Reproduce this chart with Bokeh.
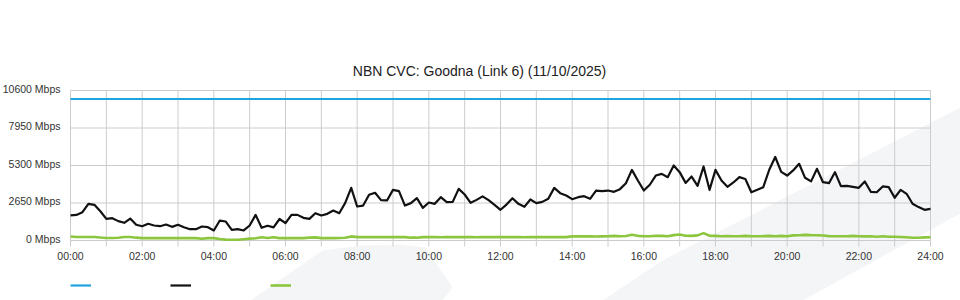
from bokeh.plotting import figure
from bokeh.models import Legend, LegendItem, PolyAnnotation, Range1d, Label
from bokeh.core.properties import value
from bokeh.embed import file_html
from bokeh.resources import INLINE

title_text = "NBN CVC: Goodna (Link 6) (11/10/2025)"
step_minutes = 10

# black series (Mbps), every 10 minutes from 00:00 to 24:00
traffic_main = [
    1770, 1810, 2000, 2590, 2520, 2070, 1530, 1580, 1370, 1250, 1550, 1110,
    1010, 1180, 1060, 1010, 1130, 965, 1110, 940, 800, 800, 990, 940,
    710, 1410, 1340, 750, 800, 710, 1060, 1810, 900, 1040, 930, 1520,
    1225, 1810, 1810, 1600, 1530, 1930, 1770, 1885, 2120, 1930, 2660, 3720,
    2400, 2470, 3230, 3370, 2850, 2830, 3580, 3490, 2470, 2640, 2990, 2310,
    2685, 2590, 3060, 2710, 2730, 3650, 3250, 2660, 2870, 3120, 2850, 2520,
    2170, 2540, 2990, 2590, 2380, 2900, 2640, 2730, 2945, 3720, 3345, 3180,
    2920, 3060, 3130, 2945, 3530, 3490, 3530, 3440, 3630, 4050, 4990, 4240,
    3530, 3940, 4590, 4710, 4475, 5300, 4830, 4070, 4520, 3860, 5230, 3580,
    4990, 4240, 3790, 4100, 4475, 4350, 3410, 3580, 3770, 5000, 5900, 4850,
    4590, 4950, 5420, 4430, 4180, 5065, 4120, 4050, 4830, 3840, 3860, 3790,
    3720, 4170, 3440, 3410, 3820, 3770, 3020, 3580, 3300, 2600, 2360, 2170,
    2240,
]

# green series (Mbps)
traffic_low = [
    280, 250, 250, 250, 250, 210, 180, 180, 190, 250, 250, 200,
    170, 170, 170, 170, 170, 170, 170, 170, 170, 170, 120, 170,
    170, 110, 60, 50, 50, 90, 130, 160, 230, 180, 230, 170,
    170, 170, 170, 170, 200, 220, 170, 170, 170, 180, 190, 290,
    240, 240, 240, 240, 240, 240, 240, 240, 240, 200, 200, 240,
    240, 240, 230, 240, 240, 250, 240, 240, 230, 240, 240, 240,
    250, 240, 240, 240, 230, 240, 250, 240, 240, 250, 240, 240,
    290, 290, 300, 290, 280, 290, 300, 330, 300, 320, 400, 330,
    300, 300, 340, 330, 300, 380, 420, 340, 330, 360, 520, 340,
    330, 300, 310, 300, 300, 330, 300, 300, 310, 330, 300, 330,
    300, 360, 370, 400, 380, 370, 350, 310, 300, 300, 300, 330,
    300, 290, 300, 270, 300, 260, 260, 250, 230, 190, 190, 220,
    230,
]

capacity_mbps = 10000

y_ticks = [0, 2650, 5300, 7950, 10600]
y_tick_labels = ["0 Mbps", "2650 Mbps", "5300 Mbps", "7950 Mbps", "10600 Mbps"]
x_ticks = [0, 2, 4, 6, 8, 10, 12, 14, 16, 18, 20, 22, 24]
x_tick_labels = ["00:00", "02:00", "04:00", "06:00", "08:00", "10:00", "12:00",
                 "14:00", "16:00", "18:00", "20:00", "22:00", "24:00"]
hour_lines = list(range(0, 25))

hours = [i * step_minutes / 60 for i in range(len(traffic_main))]
capacity = [capacity_mbps] * len(hours)

# ---- layout (pixels) ----
W, H = 960, 300
PLOT_L, PLOT_R, PLOT_T, PLOT_B = 70, 930, 90, 240
X_MIN, X_MAX = 0, 24
Y_MIN, Y_MAX = 0, 10600
ux = (X_MAX - X_MIN) / (PLOT_R - PLOT_L)   # hours per pixel
uy = (Y_MAX - Y_MIN) / (PLOT_B - PLOT_T)   # Mbps per pixel
x_range = Range1d(X_MIN - PLOT_L * ux, X_MAX + (W - PLOT_R) * ux)
y_range = Range1d(Y_MIN - (H - PLOT_B) * uy, Y_MAX + PLOT_T * uy)
TICK_PX = 6

FONT = "Liberation Sans"
GRID = "#cccccc"
WM = "#f4f5f7"

p = figure(width=W, height=H, output_backend="svg", toolbar_location=None,
           x_range=x_range, y_range=y_range, min_border=0,
           x_axis_location=None, y_axis_location=None)
p.outline_line_color = None
p.background_fill_color = "white"
p.border_fill_color = "white"
p.grid.visible = False

# decorative watermark (canvas pixels)
p.add_layout(PolyAnnotation(xs=[250, 322, 360, 400, 425, 452, 442], ys=[300, 250, 245, 244, 247, 287, 300],
                            xs_units="canvas", ys_units="canvas", fill_color=WM, fill_alpha=1,
                            line_color=None, level="underlay"))
p.add_layout(PolyAnnotation(xs=[602, 662, 960, 960, 802], ys=[300, 260, 107, 213, 300],
                            xs_units="canvas", ys_units="canvas", fill_color=WM, fill_alpha=1,
                            line_color=None, level="underlay"))

# grid lines (hourly verticals with small ticks below, horizontals at y ticks)
p.segment(x0=hour_lines, y0=[Y_MIN - TICK_PX * uy] * len(hour_lines),
          x1=hour_lines, y1=[Y_MAX] * len(hour_lines), line_color=GRID, line_width=1)
p.segment(x0=[X_MIN] * len(y_ticks), y0=y_ticks, x1=[X_MAX] * len(y_ticks), y1=y_ticks,
          line_color=GRID, line_width=1)

# tick labels
p.text(x=[X_MIN] * len(y_ticks), y=y_ticks, text=y_tick_labels, x_offset=-10, y_offset=-2,
       text_align="right", text_baseline="middle", text_font=value(FONT),
       text_font_size="10.5px", text_color="#333333")
p.text(x=x_ticks, y=[Y_MIN] * len(x_ticks), text=x_tick_labels, y_offset=15,
       text_align="center", text_baseline="middle", text_font=value(FONT),
       text_font_size="10.5px", text_color="#333333")

# title
p.add_layout(Label(x=479, y=H - 70, x_units="screen", y_units="screen", text=title_text,
                   text_align="center", text_baseline="middle", text_font=FONT,
                   text_font_size="14px", text_color="#222222"))

# series
r_cap = p.line(hours, capacity, line_color="#1ea5e0", line_width=2.2)
r_main = p.line(hours, traffic_main, line_color="#111111", line_width=2.2, line_join="round")
r_low = p.line(hours, traffic_low, line_color="#8cc63f", line_width=2.6)

legend = Legend(items=[LegendItem(label=" ", renderers=[r_cap]),
                       LegendItem(label=" ", renderers=[r_main]),
                       LegendItem(label=" ", renderers=[r_low])],
                orientation="horizontal", location=(PLOT_L, 10),
                glyph_width=21, glyph_height=10, label_standoff=0, label_width=79,
                label_height=10, label_text_font_size="6px",
                spacing=0, padding=0, margin=0,
                background_fill_alpha=0, border_line_color=None)
p.add_layout(legend, "center")

open("out.html", "w").write(file_html(p, INLINE))
